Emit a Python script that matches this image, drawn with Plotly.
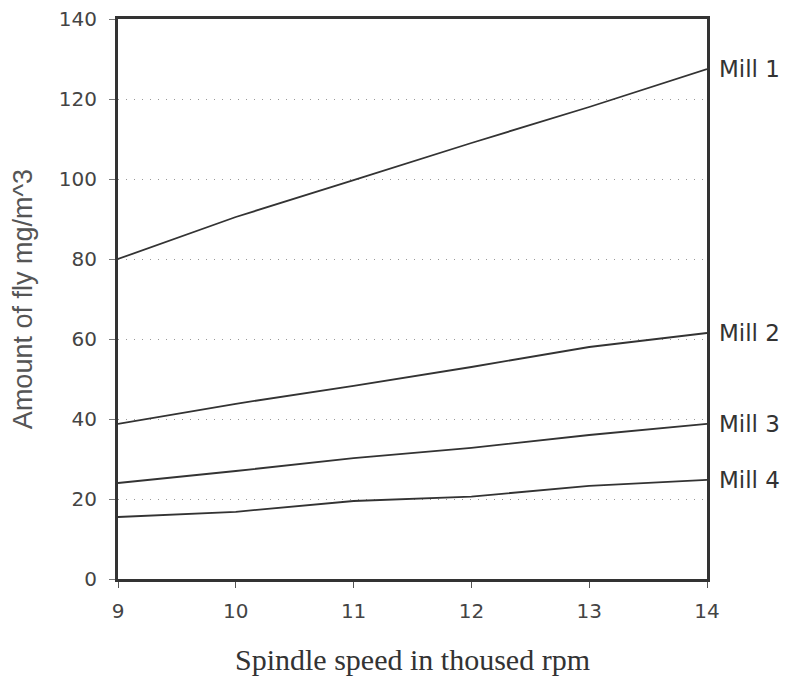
import plotly.graph_objects as go

speed = [9, 10, 11, 12, 13, 14]
mill1 = [80, 90.5, 99.7, 109, 118, 127.5]
mill2 = [38.8, 43.8, 48.3, 53, 58, 61.5]
mill3 = [24, 27, 30.2, 32.8, 36, 38.8]
mill4 = [15.5, 16.8, 19.5, 20.6, 23.3, 24.8]
names = ["Mill 1", "Mill 2", "Mill 3", "Mill 4"]
series = [mill1, mill2, mill3, mill4]
yticks = [0, 20, 40, 60, 80, 100, 120, 140]

fig = go.Figure()
for n, s in zip(names, series):
    fig.add_trace(go.Scatter(x=speed, y=s, mode="lines", name=n,
                             line=dict(color="#333", width=1.8), showlegend=False))
    fig.add_annotation(x=speed[-1], y=s[-1], text=n, xref="x", yref="y",
                       xanchor="left", yanchor="middle", xshift=10, showarrow=False,
                       font=dict(family="DejaVu Sans", size=23, color="#333"))

fig.update_layout(
    width=786, height=668,
    margin=dict(l=110, r=87, t=11, b=97),
    paper_bgcolor="white", plot_bgcolor="white",
    xaxis=dict(range=[9, 14], tickvals=speed, showline=True, linecolor="#333", linewidth=3,
               mirror=True, ticks="outside", ticklen=6, tickcolor="#555", showgrid=False,
               zeroline=False, automargin=False, ticklabelstandoff=6,
               tickfont=dict(family="DejaVu Sans", size=20, color="#444"),
               title=dict(text="Spindle speed in thoused rpm", standoff=30,
                          font=dict(family="Liberation Serif, Times New Roman", size=30, color="#333"))),
    yaxis=dict(range=[0, 140], tickvals=yticks, showline=True, linecolor="#333", linewidth=3,
               mirror=True, ticks="outside", ticklen=6, tickcolor="#777",
               showgrid=True, gridcolor="#999", griddash="1px,7px", gridwidth=1.3, zeroline=False,
               automargin=False, ticklabelstandoff=8, ticklabeloverflow="allow",
               tickfont=dict(family="DejaVu Sans", size=20, color="#444"),
               title=dict(text="Amount of fly mg/m^3", standoff=22,
                          font=dict(family="Liberation Sans, Arial", size=27, color="#555"))),
)
fig.write_html("out.html")
